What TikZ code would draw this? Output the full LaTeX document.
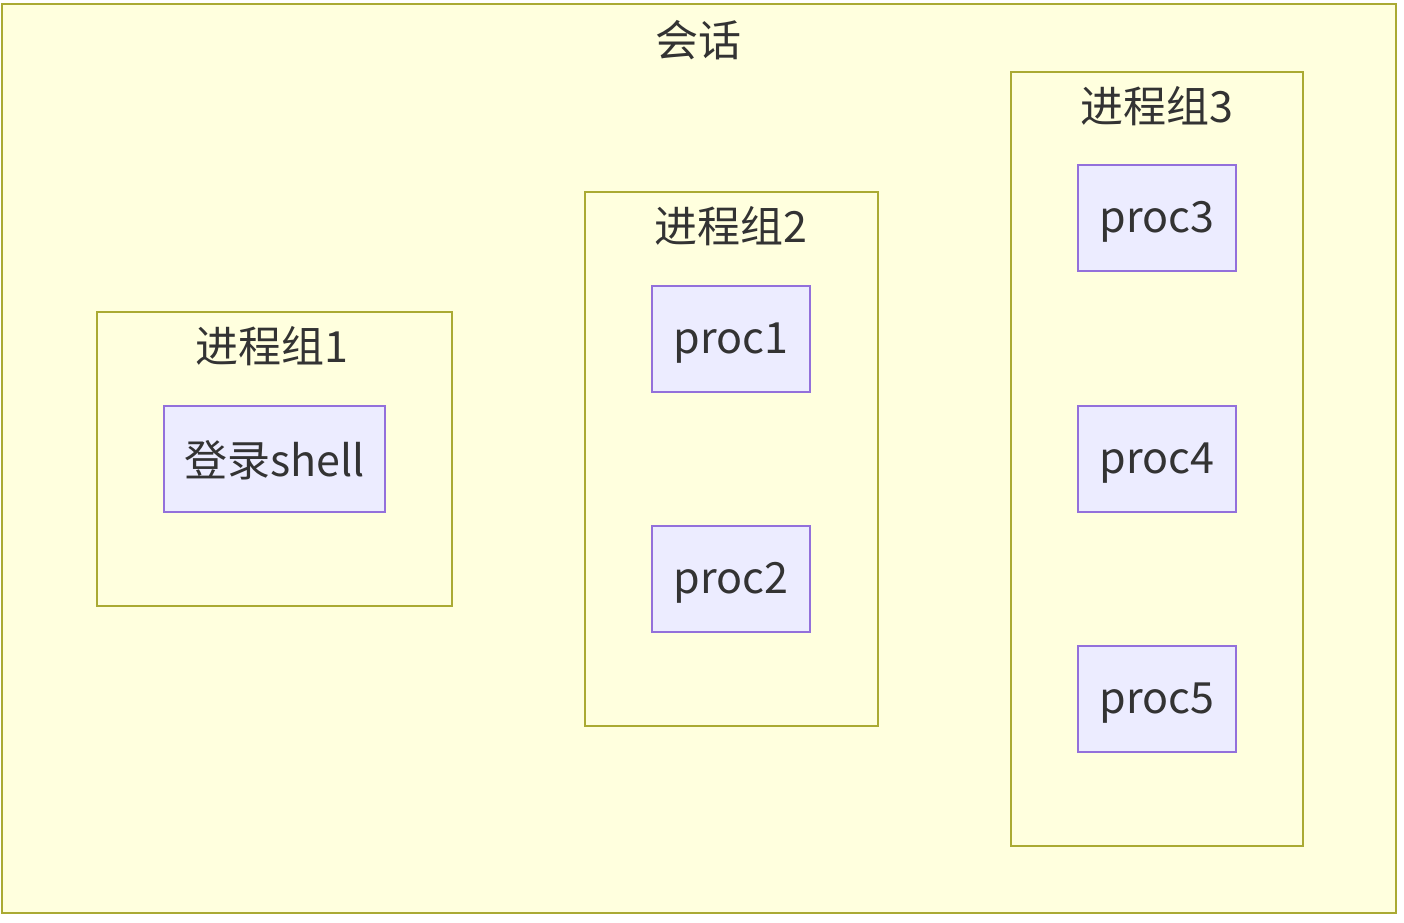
\documentclass[tikz,border=0pt]{standalone}
\usepackage{fontspec}
\setmainfont{Noto Sans CJK SC}
\definecolor{grpfill}{HTML}{FFFFDE}
\definecolor{grpline}{HTML}{AAAA33}
\definecolor{ndfill}{HTML}{ECECFF}
\definecolor{ndline}{HTML}{9370DB}
\definecolor{txt}{HTML}{333333}
\begin{document}
\begin{tikzpicture}[x=0.5pt,y=-0.5pt,
  grp/.style={draw=grpline,fill=grpfill,line width=1.2pt},
  nd/.style={draw=ndline,fill=ndfill,line width=1.2pt},
  lbl/.style={text=txt,font=\fontsize{21.5}{25}\selectfont,inner sep=0pt}]
\useasboundingbox (0,0) rectangle (1404,922);
\draw[grp] (2,4) rectangle (1396,913);
\node[lbl] (tsess) at (698,40) {会话};
\draw[grp] (97,312) rectangle (452,606);
\node[lbl] (tg1) at (272,346) {进程组1};
\draw[grp] (585,192) rectangle (878,726);
\node[lbl] (tg2) at (731,226) {进程组2};
\draw[grp] (1011,72) rectangle (1303,846);
\node[lbl] (tg3) at (1157,106) {进程组3};
\draw[nd] (164,406) rectangle (385,512);
\node[lbl] (shell) at (274.5,460) {登录shell};
\draw[nd] (652,286) rectangle (810,392);
\node[lbl] (p1) at (731,343) {proc1};
\draw[nd] (652,526) rectangle (810,632);
\node[lbl] (p2) at (731,583) {proc2};
\draw[nd] (1078,165) rectangle (1236,271);
\node[lbl] (p3) at (1157,222) {proc3};
\draw[nd] (1078,406) rectangle (1236,512);
\node[lbl] (p4) at (1157,463) {proc4};
\draw[nd] (1078,646) rectangle (1236,752);
\node[lbl] (p5) at (1157,703) {proc5};
\end{tikzpicture}
\end{document}
